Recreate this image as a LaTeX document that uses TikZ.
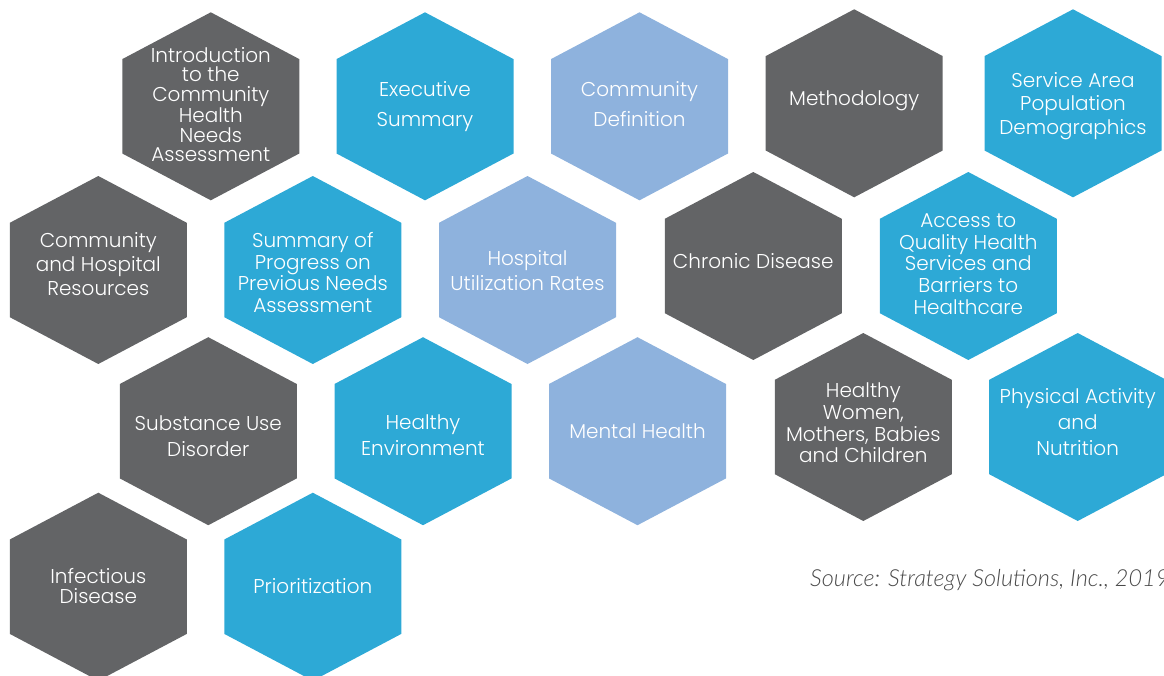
\documentclass[tikz,border=0pt]{standalone}
\usepackage{fontspec}
\IfFontExistsTF{Poppins Light}{\setmainfont{Poppins Light}}{\setmainfont{Poppins}}
\IfFontExistsTF{Lato Light}{\newfontfamily\srcfont{Lato Light}}{\newfontfamily\srcfont{Lato}}
\definecolor{hgray}{HTML}{636466}
\definecolor{hblue}{HTML}{2DA9D6}
\definecolor{hlight}{HTML}{8EB2DD}
\definecolor{srcgray}{HTML}{4A4A4A}
\tikzset{
  hexlabel/.style={text=white, align=center, inner sep=0pt, font=\fontsize{20}{#1}\selectfont},
  srclabel/.style={text=srcgray, anchor=base west, inner sep=0pt, font=\srcfont\itshape\fontsize{23.5}{28}\selectfont}
}
% name, x, y, colour, leading, text y, text
\newcommand\hexcell[7]{%
  \fill[#4] (#2,#3) ++(0,-94) -- ++(88.5,46.8) -- ++(0,94.4) -- ++(-88.5,46.8)
    -- ++(-88.5,-46.8) -- ++(0,-94.4) -- cycle;
  \node[hexlabel=#5] (#1) at (#2,#6) {#7};
}
\begin{document}
\begin{tikzpicture}[x=1pt,y=-1pt]
\useasboundingbox (0,0) rectangle (1164,675);
% left group
\hexcell{intro}{210.8}{106.3}{hgray}{19.7}{104.5}{Introduction\\to the\\Community\\Health\\Needs\\Assessment}
\hexcell{exec}{425}{106.3}{hblue}{30}{107}{Executive\\Summary}
\hexcell{cdef}{639.5}{106.3}{hlight}{30}{104}{Community\\Definition}
\hexcell{chr}{98.3}{270}{hgray}{24}{264}{Community\\and Hospital\\Resources}
\hexcell{prog}{312.8}{270}{hblue}{21.7}{272.5}{Summary of\\Progress on\\Previous Needs\\Assessment}
\hexcell{hosp}{527.5}{270}{hlight}{24.5}{270.5}{Hospital\\Utilization Rates}
\hexcell{sub}{208.3}{431.2}{hgray}{26}{436}{Substance Use\\Disorder}
\hexcell{env}{423}{431.2}{hblue}{26}{435.5}{Healthy\\Environment}
\hexcell{ment}{637.5}{431.2}{hlight}{24}{431}{Mental Health}
\hexcell{inf}{98.3}{586.7}{hgray}{20}{586}{Infectious\\Disease}
\hexcell{prio}{312.8}{586.7}{hblue}{24}{586}{Prioritization}
% right group
\hexcell{meth}{854.2}{103.3}{hgray}{24}{101}{Methodology}
\hexcell{serv}{1073}{103.3}{hblue}{23.5}{106}{Service Area\\Population\\Demographics}
\hexcell{chron}{753.3}{266}{hgray}{24}{261}{Chronic Disease}
\hexcell{acc}{968.3}{266}{hblue}{21.6}{264}{Access to\\Quality Health\\Services and\\Barriers to\\Healthcare}
\hexcell{wom}{863.3}{427}{hgray}{21.7}{423}{Healthy\\Women,\\Mothers, Babies\\and Children}
\hexcell{phys}{1077.7}{427}{hblue}{26}{422}{Physical Activity\\and\\Nutrition}
% source
\node[srclabel] (src) at (810,586) {Source: Strategy Solutions, Inc., 2019};
\end{tikzpicture}
\end{document}
